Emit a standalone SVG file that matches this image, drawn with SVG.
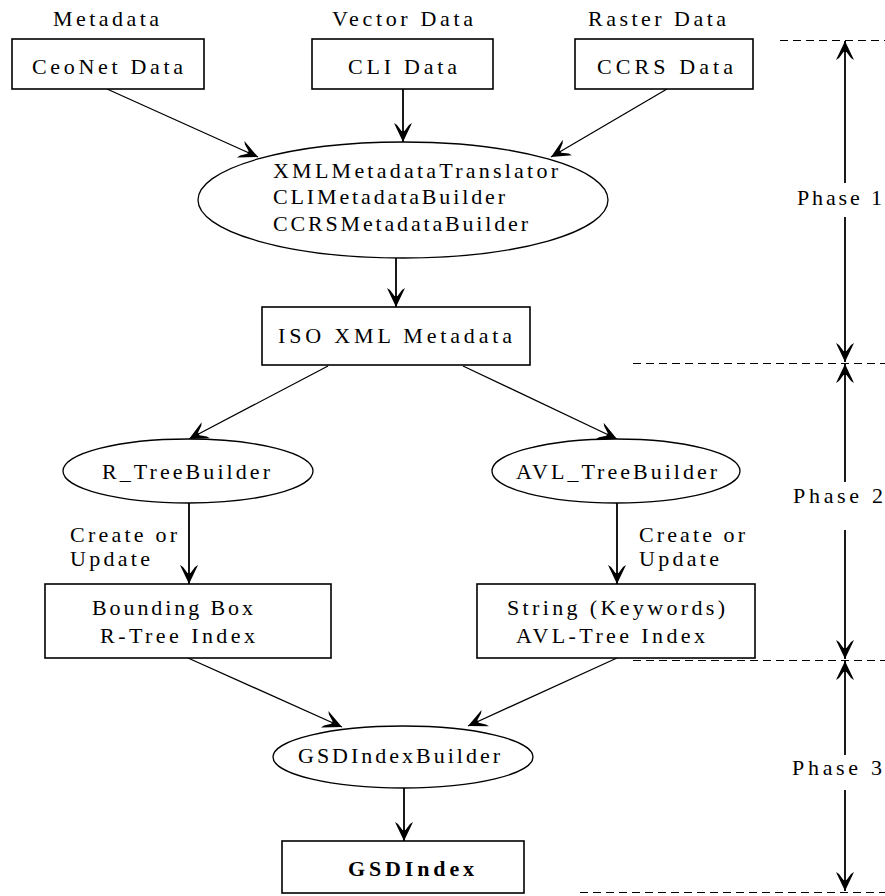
<svg xmlns="http://www.w3.org/2000/svg" width="885" height="896" viewBox="0 0 885 896">
  <defs>
    <style>
      text { font-family: "Liberation Serif", "Times New Roman", serif; font-size: 22px; fill: #000; }
      .bold { font-weight: bold; }
      .box { fill: #fff; stroke: #000; stroke-width: 1.6; }
      .oval { fill: #fff; stroke: #000; stroke-width: 1.3; }
      .edge { fill: none; stroke: #000; stroke-width: 1.3; marker-end: url(#head); }
      .vedge { fill: none; stroke: #000; stroke-width: 1.8; marker-end: url(#head); }
      .dash { fill: none; stroke: #000; stroke-width: 1; stroke-dasharray: 8 5; shape-rendering: crispEdges; }
    </style>
    <marker id="head" viewBox="-22 -11 24 22" refX="0" refY="0" markerWidth="24" markerHeight="22" markerUnits="userSpaceOnUse" orient="auto">
      <path d="M0,0 L-19,-9 L-17,-6 L-11,-1.5 L-11,1.5 L-17,6 L-19,9 Z" fill="#000"/>
    </marker>
  </defs>
  <rect width="885" height="896" fill="#fff"/>

  <!-- source category labels -->
  <g id="labels">
    <text x="53" y="26" textLength="106" lengthAdjust="spacing">Metadata</text>
    <text x="332" y="26" textLength="141" lengthAdjust="spacing">Vector Data</text>
    <text x="588" y="26" textLength="138" lengthAdjust="spacing">Raster Data</text>
  </g>

  <!-- connectors -->
  <g id="connectors">
    <line class="edge" x1="107" y1="89" x2="258" y2="157"/>
    <line class="vedge" x1="403" y1="89" x2="403" y2="142"/>
    <line class="edge" x1="667" y1="89" x2="551" y2="157"/>
    <line class="vedge" x1="396" y1="258" x2="396" y2="307"/>
    <line class="edge" x1="328" y1="366" x2="189" y2="439"/>
    <line class="edge" x1="463" y1="366" x2="617" y2="439"/>
    <line class="vedge" x1="189" y1="503" x2="189" y2="584"/>
    <line class="vedge" x1="617" y1="503" x2="617" y2="584"/>
    <line class="edge" x1="188" y1="658" x2="342" y2="727"/>
    <line class="edge" x1="617" y1="658" x2="468" y2="726"/>
    <line class="vedge" x1="404" y1="788" x2="404" y2="841"/>
    <text x="70" y="542" textLength="107" lengthAdjust="spacing">Create or</text>
    <text x="70" y="566" textLength="80" lengthAdjust="spacing">Update</text>
    <text x="639" y="542" textLength="106" lengthAdjust="spacing">Create or</text>
    <text x="639" y="566" textLength="80" lengthAdjust="spacing">Update</text>
  </g>

  <g id="ceonet">
    <rect class="box" x="12" y="39" width="192" height="50"/>
    <text x="32" y="74" textLength="151" lengthAdjust="spacing">CeoNet Data</text>
  </g>
  <g id="cli">
    <rect class="box" x="312" y="39" width="181" height="50"/>
    <text x="348" y="74" textLength="109" lengthAdjust="spacing">CLI Data</text>
  </g>
  <g id="ccrs">
    <rect class="box" x="575" y="39" width="178" height="50"/>
    <text x="597" y="74" textLength="136" lengthAdjust="spacing">CCRS Data</text>
  </g>

  <g id="translators">
    <ellipse class="oval" cx="403" cy="200" rx="205" ry="58"/>
    <text x="273" y="178" textLength="285" lengthAdjust="spacing">XMLMetadataTranslator</text>
    <text x="273" y="204" textLength="232" lengthAdjust="spacing">CLIMetadataBuilder</text>
    <text x="273" y="231" textLength="255" lengthAdjust="spacing">CCRSMetadataBuilder</text>
  </g>

  <g id="iso">
    <rect class="box" x="262" y="307" width="268" height="58"/>
    <text x="278" y="343" textLength="234" lengthAdjust="spacing">ISO XML Metadata</text>
  </g>

  <g id="rtreebuilder">
    <ellipse class="oval" cx="188" cy="471" rx="125" ry="32"/>
    <text x="102" y="479" textLength="168" lengthAdjust="spacing">R_TreeBuilder</text>
  </g>
  <g id="avltreebuilder">
    <ellipse class="oval" cx="616" cy="471" rx="124" ry="32"/>
    <text x="516" y="479" textLength="201" lengthAdjust="spacing">AVL_TreeBuilder</text>
  </g>

  <g id="rtreeindex">
    <rect class="box" x="45" y="584" width="286" height="74"/>
    <text x="92" y="615" textLength="161" lengthAdjust="spacing">Bounding Box</text>
    <text x="100" y="643" textLength="155" lengthAdjust="spacing">R-Tree Index</text>
  </g>
  <g id="avlindex">
    <rect class="box" x="477" y="584" width="278" height="74"/>
    <text x="507" y="615" textLength="218" lengthAdjust="spacing">String (Keywords)</text>
    <text x="516" y="643" textLength="189" lengthAdjust="spacing">AVL-Tree Index</text>
  </g>

  <g id="gsdbuilder">
    <ellipse class="oval" cx="403" cy="757" rx="130" ry="31"/>
    <text x="298" y="763" textLength="202" lengthAdjust="spacing">GSDIndexBuilder</text>
  </g>
  <g id="gsdindex">
    <rect class="box" x="282" y="841" width="242" height="52"/>
    <text class="bold" x="348" y="876" textLength="126" lengthAdjust="spacing">GSDIndex</text>
  </g>

  <!-- phase scale -->
  <g id="phases">
    <line class="dash" x1="780" y1="40.5" x2="885" y2="40.5"/>
    <line class="dash" x1="633" y1="363.5" x2="885" y2="363.5"/>
    <line class="dash" x1="633" y1="660.5" x2="885" y2="660.5"/>
    <line class="dash" x1="580" y1="892.5" x2="885" y2="892.5"/>
    <line class="vedge" x1="845" y1="183" x2="845" y2="41"/>
    <line class="vedge" x1="845" y1="217" x2="845" y2="362"/>
    <line class="vedge" x1="845" y1="482" x2="845" y2="364"/>
    <line class="vedge" x1="845" y1="530" x2="845" y2="659"/>
    <line class="vedge" x1="845" y1="755" x2="845" y2="661"/>
    <line class="vedge" x1="845" y1="790" x2="845" y2="891"/>
    <text x="797" y="205" textLength="85" lengthAdjust="spacing">Phase 1</text>
    <text x="793" y="503" textLength="90" lengthAdjust="spacing">Phase 2</text>
    <text x="792" y="775" textLength="90" lengthAdjust="spacing">Phase 3</text>
  </g>
</svg>
